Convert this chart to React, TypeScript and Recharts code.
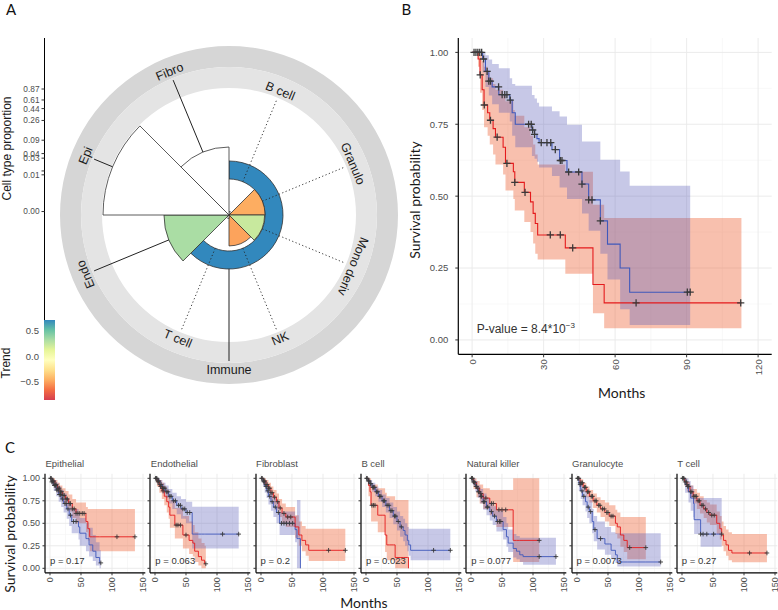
import React from 'react';
import {
  PieChart, Pie, Cell, ComposedChart, BarChart, Bar, Area, Line, Scatter,
  XAxis, YAxis, CartesianGrid,
} from 'recharts';

// ================= Panel A data =================
const cellTypes = ['B cell', 'Granulo', 'Mono deriv', 'NK', 'T cell', 'Endo', 'Epi', 'Fibro'];
const cellProportion = [0.0002, 0.0075, 0.0073, 0.0052, 0.0002, 0.05, 0.87, 0.06];
const cellTrend: (number | null)[] = [null, -0.47, 0.22, -0.5, null, 0.32, null, null];
const cellIsImmune = [true, true, true, true, true, false, false, false];
const immuneLabel = 'Immune';
const immuneProportion = 0.025;
const immuneTrend = 0.71;
const propTicks = [0.0002, 0.01, 0.013, 0.03, 0.04, 0.09, 0.26, 0.44, 0.61, 0.87];
const propTickLabels = ['0.00', '0.01', '', '0.03', '0.04', '0.09', '0.26', '0.44', '0.61', '0.87'];
const trendRange = [-0.86, 0.71];
const trendTicks = [-0.5, 0, 0.5];
const spectral = ['#d53e4f', '#f46d43', '#fdae61', '#fee08b', '#ffffbf', '#e6f598', '#abdda4', '#66c2a5', '#3288bd'];

// ================= Panel B data: [time, surv, lower, upper] =================
type Row = [number, number, number, number];
const bHighRows: Row[] = [
  [0, 1, 1, 1], [4.4, 0.977, 0.93, 1], [5.6, 0.934, 0.88, 0.99], [7, 0.9, 0.85, 0.975],
  [8.4, 0.88, 0.82, 0.96], [11.2, 0.853, 0.79, 0.945], [15.8, 0.834, 0.76, 0.91],
  [16.8, 0.79, 0.71, 0.89], [18.1, 0.75, 0.67, 0.884], [25.1, 0.73, 0.64, 0.852],
  [26.2, 0.715, 0.63, 0.84], [27.2, 0.7, 0.62, 0.825], [28.1, 0.686, 0.6, 0.812],
  [33.5, 0.662, 0.57, 0.795], [36.7, 0.624, 0.53, 0.777], [39.8, 0.584, 0.49, 0.748],
  [46.1, 0.542, 0.44, 0.69], [48.9, 0.487, 0.38, 0.69], [53.8, 0.414, 0.3, 0.627],
  [56.8, 0.333, 0.21, 0.627], [62.1, 0.25, 0.107, 0.586], [66.1, 0.166, 0.052, 0.536],
  [91.5, 0.166, 0.052, 0.536],
];
const bHighCensor = [0.8, 1.6, 2.4, 3.2, 4.0, 4.8, 6.3, 7.0, 7.7, 11.1, 12.6, 13.7, 14.6, 16.0, 23.7, 24.8, 25.4, 26.2, 29.0, 31.4, 33.0, 34.9, 37.0, 37.7, 40.5, 44.7, 46.1, 48.9, 50.3, 53.8, 90.3, 91.5];
const bLowRows: Row[] = [
  [0, 1, 1, 1], [2.5, 0.977, 0.95, 1], [3.3, 0.922, 0.86, 0.99], [4.2, 0.87, 0.8, 0.97],
  [5.0, 0.817, 0.74, 0.95], [6.5, 0.79, 0.71, 0.93], [7.4, 0.764, 0.68, 0.91],
  [8.8, 0.735, 0.645, 0.89], [9.8, 0.705, 0.61, 0.87], [13.0, 0.67, 0.575, 0.85],
  [14.0, 0.614, 0.52, 0.83], [17.3, 0.585, 0.49, 0.8], [17.9, 0.548, 0.45, 0.78],
  [21.9, 0.513, 0.41, 0.74], [24.5, 0.48, 0.375, 0.71], [25.6, 0.44, 0.335, 0.68],
  [26.5, 0.405, 0.3, 0.645], [27.5, 0.365, 0.28, 0.61], [39.1, 0.32, 0.23, 0.585],
  [50.7, 0.193, 0.093, 0.47], [55.4, 0.129, 0.041, 0.424], [113, 0.129, 0.041, 0.424],
];
const bLowCensor = [3.4, 5.1, 7.7, 10.5, 14.6, 17.9, 22.2, 32.8, 37.0, 42.2, 68.8, 112.7];
const bPValue = 'P-value = 8.4*10';
const bPExp = '−3';

// ================= Panel C data =================
const cNames = ['Epithelial', 'Endothelial', 'Fibroblast', 'B cell', 'Natural killer', 'Granulocyte', 'T cell'];
const cPValues = ['p = 0.17', 'p = 0.063', 'p = 0.2', 'p = 0.023', 'p = 0.077', 'p = 0.0073', 'p = 0.27'];

const epiRed: Row[] = [[0,1,1,1],[4,.97,.93,1],[8,.93,.88,.98],[12,.89,.83,.95],[16,.85,.78,.92],[20,.81,.73,.89],[25,.77,.69,.86],[30,.72,.63,.82],[36,.66,.56,.77],[42,.61,.5,.73],[58,.52,.4,.68],[61,.44,.31,.66],[64,.35,.19,.66],[137,.35,.19,.66]];
const epiRedCens = [2,4,6,8,10,13,15,17,19,21,23,26,28,31,33,36,39,42,45,48,52,55,108,137];
const epiBlue: Row[] = [[0,1,1,1],[3,.96,.92,1],[6,.92,.86,.98],[10,.87,.8,.95],[14,.82,.74,.91],[18,.77,.68,.87],[22,.72,.62,.83],[27,.66,.55,.78],[31,.59,.47,.72],[35,.52,.39,.66],[46,.46,.32,.62],[48,.39,.25,.56],[58,.33,.19,.51],[63,.26,.13,.45],[69,.19,.08,.37],[74,.12,.03,.29],[80,.06,0,.2],[82,.06,0,.2]];
const epiBlueCens = [1,3,5,7,9,11,13,15,17,20,24,26,29,33,38,42,82];

const endoRed: Row[] = [[0,1,1,1],[3,.96,.91,1],[7,.91,.84,.98],[11,.86,.77,.95],[15,.8,.7,.91],[19,.74,.62,.87],[22,.68,.55,.82],[24,.59,.45,.76],[32,.48,.33,.67],[45,.37,.22,.58],[55,.31,.16,.52],[61,.28,.13,.48],[64,.19,.07,.4],[70,.13,.03,.33],[75,.09,0,.28],[80,.05,0,.25],[82,.05,0,.25]];
const endoRedCens = [2,5,9,13,34,37,41,50,82];
const endoBlue: Row[] = [[0,1,1,1],[4,.97,.93,1],[8,.93,.88,.98],[12,.89,.83,.95],[17,.85,.78,.92],[22,.8,.72,.88],[28,.75,.66,.84],[35,.7,.6,.8],[42,.66,.55,.77],[50,.62,.5,.74],[60,.38,.22,.685],[135,.38,.22,.685]];
const endoBlueCens = [1,3,5,6,8,10,12,14,16,19,21,24,26,30,33,38,41,45,48,52,56,109,135];

const fibroRed: Row[] = [[0,1,1,1],[4,.97,.93,1],[8,.93,.88,.98],[12,.89,.83,.95],[16,.84,.77,.91],[20,.79,.71,.87],[25,.74,.65,.83],[29,.67,.57,.77],[34,.61,.5,.72],[40,.57,.46,.68],[55,.46,.34,.59],[61,.37,.25,.52],[66,.31,.19,.47],[72,.26,.14,.44],[77,.2,.08,.44],[136,.2,.08,.44]];
const fibroRedCens = [2,4,6,8,10,12,14,16,18,22,27,31,37,43,48,109,136];
const fibroBlue: Row[] = [[0,1,1,1],[3,.96,.91,1],[6,.91,.84,.98],[9,.86,.78,.94],[12,.8,.71,.89],[16,.74,.64,.84],[20,.68,.57,.79],[25,.62,.5,.74],[30,.5,.37,.63],[55,.43,.29,.58],[58,.33,0,.76],[63.6,0,0,0]];
const fibroBlueCens = [1,5,8,11,14,18,23,28,33,37,41,46,51];

const bcRed: Row[] = [[0,1,1,1],[4,.92,.8,1],[6.5,.85,.7,1],[8.2,.7,.52,.93],[19,.59,.4,.89],[30.8,.37,.18,.84],[33.5,.26,.09,.8],[47,.12,0,.76],[68.5,0,0,0]];
const bcRedCens = [9.5,12,14.5];
const bcBlue: Row[] = [[0,1,1,1],[3,.97,.94,1],[6,.94,.9,.98],[10,.9,.85,.95],[15,.85,.8,.91],[20,.8,.74,.87],[26,.75,.68,.82],[32,.7,.62,.78],[38,.64,.56,.73],[44,.58,.49,.68],[50,.52,.42,.63],[55,.46,.35,.58],[60,.42,.3,.55],[63,.37,.25,.5],[66.7,.31,.19,.46],[69,.26,.14,.44],[72,.2,.09,.44],[136,.2,.09,.44]];
const bcBlueCens = [1,2,4,5,7,8,11,12,14,17,19,22,24,28,30,34,37,40,42,46,48,52,57,109,136];

const nkRed: Row[] = [[0,1,1,1],[4,.95,.88,1],[8.8,.89,.79,.97],[14,.83,.72,.93],[19.6,.78,.66,.89],[30.3,.72,.59,.87],[41,.65,.46,.87],[68,.31,.07,1],[110,.31,.07,1]];
const nkRedCens = [2,6,11,16,24,33,36,45,50,56,110];
const nkBlue: Row[] = [[0,1,1,1],[3,.96,.92,1],[7,.91,.85,.97],[11,.85,.78,.92],[15,.8,.72,.88],[19.6,.74,.65,.83],[25,.68,.59,.78],[30.3,.63,.53,.73],[35,.58,.48,.69],[41,.52,.41,.64],[51.8,.43,.32,.57],[57.2,.35,.24,.5],[60,.28,.18,.43],[68,.22,.12,.38],[73.3,.19,.1,.36],[78.7,.15,.07,.34],[84,.13,.04,.34],[137,.13,.04,.34]];
const nkBlueCens = [1,2,4,5,8,9,12,13,16,17,20,22,26,27,33,38,43,46,48,110,137];

const granRed: Row[] = [[0,1,1,1],[5,.95,.91,.99],[10,.9,.85,.95],[15,.85,.79,.91],[20,.8,.73,.87],[26,.75,.67,.83],[32,.7,.62,.79],[38,.66,.57,.76],[45,.62,.52,.73],[52,.58,.47,.7],[62,.5,.38,.65],[65,.46,.33,.62],[70,.37,.24,.57],[75.5,.31,.18,.57],[81,.23,.1,.57],[111,.23,.1,.57]];
const granRedCens = [1,3,5,7,9,12,14,17,19,23,25,29,31,35,37,41,44,48,50,55,58,85,111];
const granBlue: Row[] = [[0,1,1,1],[3,.93,.86,1],[6,.86,.77,.95],[9,.8,.7,.9],[13.7,.74,.63,.85],[16.4,.68,.56,.8],[20,.63,.5,.76],[24.5,.52,.39,.66],[27,.43,.3,.58],[32.5,.33,.21,.52],[45,.27,.15,.46],[55,.2,.1,.4],[62,.15,.06,.39],[65,.07,.02,.39],[135,.07,.02,.39]];
const granBlueCens = [2,5,8,11,18,22,29,38,135];

const tcRed: Row[] = [[0,1,1,1],[4,.96,.92,1],[8,.91,.85,.96],[13,.85,.78,.92],[18,.8,.72,.88],[24,.75,.66,.84],[29,.7,.61,.8],[35,.66,.56,.76],[40,.62,.51,.73],[45,.59,.48,.71],[56,.5,.38,.63],[61,.44,.32,.58],[64,.37,.25,.52],[67,.31,.19,.47],[71,.26,.14,.43],[75,.2,.09,.4],[80.5,.17,.067,.38],[137,.17,.067,.38]];
const tcRedCens = [1,3,5,7,9,11,14,16,19,21,23,26,28,32,34,38,43,48,52,109,137];
const tcBlue: Row[] = [[0,1,1,1],[5,.93,.84,1],[10.5,.85,.73,.97],[14,.78,.64,.92],[18.6,.72,.57,.88],[19.6,.54,.38,.78],[30,.38,.24,.78],[64,.38,.24,.78]];
const tcBlueCens = [2,8,30,34,40,51,64];

const cRed = [epiRed, endoRed, fibroRed, bcRed, nkRed, granRed, tcRed];
const cRedCens = [epiRedCens, endoRedCens, fibroRedCens, bcRedCens, nkRedCens, granRedCens, tcRedCens];
const cBlue = [epiBlue, endoBlue, fibroBlue, bcBlue, nkBlue, granBlue, tcBlue];
const cBlueCens = [epiBlueCens, endoBlueCens, fibroBlueCens, bcBlueCens, nkBlueCens, granBlueCens, tcBlueCens];

const bXTicks = [0, 30, 60, 90, 120];
const bXMinor = [15, 45, 75, 105];
const cXTicks = [0, 50, 100, 150];
const cXMinor = [25, 75, 125];
const survTicks = [0, 0.25, 0.5, 0.75, 1];
const survMinor = [0.125, 0.375, 0.625, 0.875];

// ================= styling =================
const RED = '#e41a1c';
const BLUE = '#3f58bb';
const RED_FILL = '#ee6a3f';
const BLUE_FILL = '#5b5fb8';
const CENS = '#3a3a3a';
const SANS = '"Liberation Sans", Arial, sans-serif';
const LATO = 'Lato, "Open Sans", sans-serif';
const TICK_COL = '#4d4d4d';

// ================= helpers =================
function hexToRgb(h: string) {
  return [parseInt(h.slice(1, 3), 16), parseInt(h.slice(3, 5), 16), parseInt(h.slice(5, 7), 16)];
}
function trendColor(v: number) {
  const f = Math.max(0, Math.min(1, (v - trendRange[0]) / (trendRange[1] - trendRange[0])));
  const pos = f * (spectral.length - 1);
  const i = Math.min(spectral.length - 2, Math.floor(pos));
  const u = pos - i;
  const a = hexToRgb(spectral[i]), b = hexToRgb(spectral[i + 1]);
  const c = a.map((x, k) => Math.round(x + (b[k] - x) * u));
  return `rgb(${c[0]},${c[1]},${c[2]})`;
}

function stepAt(rows: Row[], t: number): Row | undefined {
  if (t > rows[rows.length - 1][0] + 1e-9) return undefined;
  let r = rows[0];
  for (const row of rows) {
    if (row[0] <= t + 1e-9) r = row;
    else break;
  }
  return r;
}

function mergeCurves(curves: { key: string; rows: Row[] }[]) {
  const ts = Array.from(new Set(curves.flatMap((c) => c.rows.map((r) => r[0])))).sort((a, b) => a - b);
  return ts.map((t) => {
    const o: any = { t };
    curves.forEach((c) => {
      const r = stepAt(c.rows, t);
      if (r) {
        o[c.key + '_s'] = r[1];
        o[c.key + '_ci'] = [r[2], r[3]];
      }
    });
    return o;
  });
}

const makePlus = (half: number, sw: number) => (props: any) => {
  const { cx, cy } = props;
  if (cx == null || cy == null) return <g />;
  return (
    <g>
      <line x1={cx - half} x2={cx + half} y1={cy} y2={cy} stroke={CENS} strokeWidth={sw} />
      <line x1={cx} x2={cx} y1={cy - half} y2={cy + half} stroke={CENS} strokeWidth={sw} />
    </g>
  );
};

const RotTick = (props: any) => {
  const { x, y, payload, fs } = props;
  return (
    <text x={x} y={y} transform={`rotate(-90 ${x} ${y})`} textAnchor="end" dominantBaseline="central"
      fontSize={fs} fill={TICK_COL} fontFamily={SANS}>
      {payload.value}
    </text>
  );
};

// ================= Panel A =================
// radial scale: mix of log-like and linear parts, normalised at the largest proportion
const CX = 229, CY = 215, R_AT_MAX = 126;
const PMAX = Math.max(...cellProportion);
const logPart = (v: number) => Math.log10(1 + 1000 * v) / Math.log10(1 + 1000 * PMAX);
const tr = (v: number) => 0.85 * Math.pow(logPart(v), 0.95) + 0.15 * (v / PMAX);
const rad = (v: number) => R_AT_MAX * tr(v);
const SLOT = 45;
const toRc = (theta: number) => 90 - theta;
const polar = (theta: number, r: number) => ({
  x: CX + r * Math.sin((theta * Math.PI) / 180),
  y: CY - r * Math.cos((theta * Math.PI) / 180),
});
const rotFor = (th: number) => (th > 135 && th < 225 ? th - 180 : th >= 225 ? th - 360 : th);

const RING_OUT = [148, 169];
const RING_IN = [127, 148];
const MAJOR_LABEL_R = 155, SUB_LABEL_R = 134, MAJOR_LINE_R = 146, SUB_LINE_R = 125;
const IMMUNE_LABEL_ANGLE = 180;

const immIdx = cellTypes.map((_, i) => i).filter((i) => cellIsImmune[i]);
const subMax = Math.max(...immIdx.map((i) => cellProportion[i]));

function PanelA() {
  const immStart = Math.min(...immIdx) * SLOT;
  const immEnd = (Math.max(...immIdx) + 1) * SLOT;
  const one = [{ v: 1 }];
  return (
    <div style={{ position: 'absolute', left: 0, top: 0 }}>
      <PieChart width={400} height={400} margin={{ top: 0, right: 0, bottom: 0, left: 0 }}>
        <Pie data={one} dataKey="v" cx={CX} cy={CY} innerRadius={RING_OUT[0]} outerRadius={RING_OUT[1]}
          startAngle={0} endAngle={360} stroke="none" isAnimationActive={false}>
          <Cell fill="#d6d6d6" />
        </Pie>
        <Pie data={one} dataKey="v" cx={CX} cy={CY} innerRadius={RING_IN[0]} outerRadius={RING_IN[1]}
          startAngle={0} endAngle={360} stroke="none" isAnimationActive={false}>
          <Cell fill="#e4e4e4" />
        </Pie>
        <Pie data={one} dataKey="v" cx={CX} cy={CY} innerRadius={rad(subMax)} outerRadius={rad(immuneProportion)}
          startAngle={toRc(immStart)} endAngle={toRc(immEnd)} stroke="#333" strokeWidth={0.8} isAnimationActive={false}>
          <Cell fill={trendColor(immuneTrend)} />
        </Pie>
        {cellTypes.map((c, i) => (
          <Pie key={c} data={one} dataKey="v" cx={CX} cy={CY} innerRadius={0} outerRadius={rad(cellProportion[i])}
            startAngle={toRc(i * SLOT)} endAngle={toRc((i + 1) * SLOT)} stroke="#333" strokeWidth={0.8}
            isAnimationActive={false}>
            <Cell fill={cellTrend[i] == null ? '#ffffff' : trendColor(cellTrend[i] as number)} />
          </Pie>
        ))}
      </PieChart>
    </div>
  );
}

function PolarAnnotations() {
  const pi0 = polar(IMMUNE_LABEL_ANGLE, rad(immuneProportion));
  const pi1 = polar(IMMUNE_LABEL_ANGLE, MAJOR_LINE_R);
  const pil = polar(IMMUNE_LABEL_ANGLE, MAJOR_LABEL_R);
  return (
    <g>
      {cellTypes.map((c, i) => {
        const th = (i + 0.5) * SLOT;
        const sub = cellIsImmune[i];
        const p0 = polar(th, sub ? rad(subMax) : rad(cellProportion[i]));
        const p1 = polar(th, sub ? SUB_LINE_R : MAJOR_LINE_R);
        return (
          <line key={'l' + c} x1={p0.x} y1={p0.y} x2={p1.x} y2={p1.y} stroke="#222"
            strokeWidth={sub ? 0.9 : 1} strokeDasharray={sub ? '1.2 2.4' : undefined} />
        );
      })}
      <line x1={pi0.x} y1={pi0.y} x2={pi1.x} y2={pi1.y} stroke="#222" strokeWidth={1} />
      {cellTypes.map((c, i) => {
        const th = (i + 0.5) * SLOT;
        const p = polar(th, cellIsImmune[i] ? SUB_LABEL_R : MAJOR_LABEL_R);
        return (
          <text key={'t' + c} x={p.x} y={p.y} textAnchor="middle" dominantBaseline="central"
            transform={`rotate(${rotFor(th)} ${p.x} ${p.y})`} fontSize={12.5} fill="#1a1a1a" fontFamily={SANS}>
            {c}
          </text>
        );
      })}
      <text x={pil.x} y={pil.y} textAnchor="middle" dominantBaseline="central" fontSize={12.5}
        fill="#1a1a1a" fontFamily={SANS}>{immuneLabel}</text>
    </g>
  );
}

const PROP_AXIS_TOP = 38, PROP_AXIS_BOTTOM = 320;
function PropAxis() {
  const tvals = propTicks.map(tr);
  const dom = [(CY - PROP_AXIS_BOTTOM) / R_AT_MAX, (CY - PROP_AXIS_TOP) / R_AT_MAX];
  return (
    <div style={{ position: 'absolute', left: 0, top: 0 }}>
      <ComposedChart width={60} height={PROP_AXIS_BOTTOM + 10} data={[{ x: 0 }]}
        margin={{ top: PROP_AXIS_TOP, right: 5, bottom: 10, left: 0 }}>
        <XAxis dataKey="x" type="number" hide domain={[0, 1]} />
        <YAxis type="number" domain={dom} ticks={tvals} interval={0} allowDataOverflow width={44.5}
          tickSize={3} tickMargin={2} axisLine={{ stroke: '#000', strokeWidth: 1 }} tickLine={{ stroke: '#333' }}
          tick={{ fontSize: 8.3, fill: TICK_COL, fontFamily: SANS }}
          tickFormatter={(v: number) => {
            let best = 0;
            tvals.forEach((tv, i) => { if (Math.abs(tv - v) < Math.abs(tvals[best] - v)) best = i; });
            return propTickLabels[best];
          }} />
      </ComposedChart>
    </div>
  );
}

function TrendBar() {
  return (
    <div style={{ position: 'absolute', left: 0, top: 300 }}>
      <BarChart width={60} height={110} data={[{ k: 'trend', r: trendRange }]}
        margin={{ top: 20, right: 5, bottom: 10, left: 0 }} barCategoryGap={0}>
        <defs>
          <linearGradient id="trendGrad" x1="0" y1="1" x2="0" y2="0">
            {spectral.map((c, i) => (
              <stop key={c} offset={`${(i / (spectral.length - 1)) * 100}%`} stopColor={c} />
            ))}
          </linearGradient>
        </defs>
        <XAxis dataKey="k" hide />
        <YAxis type="number" domain={trendRange} ticks={trendTicks} interval={0} allowDataOverflow width={44}
          axisLine={false} tickLine={false} tickSize={0} tickMargin={5}
          tick={{ fontSize: 9.5, fill: TICK_COL, fontFamily: SANS }}
          tickFormatter={(v: number) => (v < 0 ? '−' + Math.abs(v).toFixed(1) : v.toFixed(1))} />
        <Bar dataKey="r" fill="url(#trendGrad)" isAnimationActive={false} />
      </BarChart>
    </div>
  );
}

// ================= KM chart =================
function KMChart(p: any) {
  const data = mergeCurves([{ key: 'r', rows: p.red }, { key: 'b', rows: p.blue }]);
  const cr = p.redCens.map((t: number) => ({ t, s: (stepAt(p.red, t) as Row)[1] }));
  const cb = p.blueCens.map((t: number) => ({ t, s: (stepAt(p.blue, t) as Row)[1] }));
  const plus = makePlus(p.plusR, p.plusW);
  return (
    <div style={{ position: 'absolute', left: p.left, top: p.top }}>
      <ComposedChart width={p.width} height={p.height} data={data} margin={p.margin}>
        <CartesianGrid horizontalValues={survMinor} verticalValues={p.xMinor} stroke="#f3f3f3" strokeWidth={0.6} />
        <CartesianGrid horizontalValues={survTicks} verticalValues={p.xTicks} stroke="#e9e9e9" strokeWidth={0.9} />
        <XAxis dataKey="t" type="number" domain={p.xDomain} ticks={p.xTicks} interval={0} allowDataOverflow
          height={p.xAxisHeight} axisLine={{ stroke: '#000', strokeWidth: 1.2 }} tickLine={{ stroke: '#333' }}
          tickSize={p.tickSize} tickMargin={2} tick={<RotTick fs={p.tickFont} />} />
        <YAxis type="number" domain={[-0.05, 1.05]} ticks={survTicks} interval={0} allowDataOverflow
          width={p.yAxisWidth} axisLine={{ stroke: '#000', strokeWidth: 1.2 }} tickLine={{ stroke: '#333' }}
          tickSize={p.tickSize} tickMargin={p.yTickMargin}
          tick={{ fontSize: p.tickFont, fill: TICK_COL, fontFamily: SANS }}
          tickFormatter={(v: number) => (p.showYLabels ? v.toFixed(2) : '')} />
        <Area dataKey="r_ci" type="stepAfter" stroke="none" fill={RED_FILL} fillOpacity={0.42}
          isAnimationActive={false} dot={false} activeDot={false} />
        <Area dataKey="b_ci" type="stepAfter" stroke="none" fill={BLUE_FILL} fillOpacity={0.34}
          isAnimationActive={false} dot={false} activeDot={false} />
        <Line dataKey="b_s" type="stepAfter" stroke={BLUE} strokeWidth={p.lineW} dot={false} activeDot={false}
          isAnimationActive={false} />
        <Line dataKey="r_s" type="stepAfter" stroke={RED} strokeWidth={p.lineW} dot={false} activeDot={false}
          isAnimationActive={false} />
        <Scatter data={cb} dataKey="s" shape={plus} isAnimationActive={false} />
        <Scatter data={cr} dataKey="s" shape={plus} isAnimationActive={false} />
      </ComposedChart>
    </div>
  );
}

const C_ZERO0 = 50, C_PITCH = 105.3;

export default function App() {
  return (
    <div style={{ position: 'absolute', left: 0, top: 0, width: 778, height: 610, background: '#fff', overflow: 'hidden', fontFamily: SANS }}>
      <PanelA />
      <PropAxis />
      <TrendBar />
      <KMChart left={400} top={0} width={378} height={400}
        margin={{ top: 38, right: 6.3, bottom: 0, left: 0 }} yAxisWidth={58.3} xAxisHeight={45.7}
        xDomain={[-5.8, 125.7]} xTicks={bXTicks} xMinor={bXMinor} red={bLowRows} blue={bHighRows}
        redCens={bLowCensor} blueCens={bHighCensor} showYLabels tickFont={9.5} tickSize={3} yTickMargin={7}
        lineW={1.1} plusR={3.6} plusW={1.3} />
      {cNames.map((n, i) => {
        const z = C_ZERO0 + C_PITCH * i;
        return (
          <KMChart key={n} left={z - 40} top={460} width={140.3} height={144.8}
            margin={{ top: 13.8, right: 5, bottom: 0, left: 0 }} yAxisWidth={35} xAxisHeight={32}
            xDomain={[-8.06, 153.7]} xTicks={cXTicks} xMinor={cXMinor} red={cRed[i]} blue={cBlue[i]}
            redCens={cRedCens[i]} blueCens={cBlueCens[i]} showYLabels={i === 0} tickFont={9} tickSize={2.5}
            yTickMargin={2.5} lineW={0.9} plusR={2.3} plusW={0.9} />
        );
      })}
      <svg width={778} height={610} style={{ position: 'absolute', left: 0, top: 0, pointerEvents: 'none' }}>
        <PolarAnnotations />
        <text x={6} y={15} fontSize={15} fontFamily={LATO} fill="#111">A</text>
        <text x={401.5} y={15} fontSize={15} fontFamily={LATO} fill="#111">B</text>
        <text x={5} y={453} fontSize={15} fontFamily={LATO} fill="#111">C</text>
        <text transform="translate(7,148.5) rotate(-90)" textAnchor="middle" dominantBaseline="central"
          fontSize={12} fill="#1a1a1a" fontFamily={SANS}>Cell type proportion</text>
        <text transform="translate(6,363) rotate(-90)" textAnchor="middle" dominantBaseline="central"
          fontSize={12} fill="#1a1a1a" fontFamily={SANS}>Trend</text>
        <text transform="translate(414,200) rotate(-90)" textAnchor="middle" dominantBaseline="central"
          fontSize={14} fill="#1a1a1a" fontFamily={LATO}>Survival probability</text>
        <text x={621.7} y={398} textAnchor="middle" fontSize={14} fill="#1a1a1a" fontFamily={LATO}>Months</text>
        <text x={476.7} y={333.3} fontSize={12} fill="#333" fontFamily={SANS}>
          {bPValue}<tspan dy={-5} fontSize={8}>{bPExp}</tspan>
        </text>
        {cNames.map((n, i) => {
          const z = C_ZERO0 + C_PITCH * i;
          return (
            <g key={'c' + n}>
              <text x={z - 4.5} y={467} fontSize={9.5} fill="#4d4d4d" fontFamily={SANS}>{n}</text>
              <text x={z} y={564} fontSize={9.5} fill="#333" fontFamily={SANS}>{cPValues[i]}</text>
            </g>
          );
        })}
        <text transform="translate(9,534) rotate(-90)" textAnchor="middle" dominantBaseline="central"
          fontSize={14} fill="#1a1a1a" fontFamily={LATO}>Survival probability</text>
        <text x={364} y={608} textAnchor="middle" fontSize={14} fill="#1a1a1a" fontFamily={LATO}>Months</text>
      </svg>
    </div>
  );
}
